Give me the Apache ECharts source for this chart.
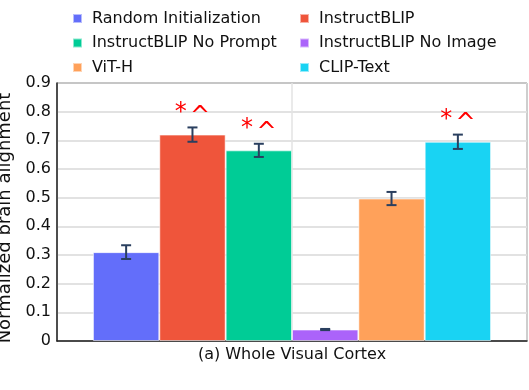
<!DOCTYPE html>
<html>
<head>
<meta charset="UTF-8">
<title>brain alignment</title>
<script src="https://cdn.jsdelivr.net/npm/echarts@6/dist/echarts.min.js"></script>
<style>
  html, body { margin: 0; padding: 0; background: #fff; }
  #main { width: 529px; height: 390px; }
</style>
</head>
<body>
<div id="main"></div>
<script>
// data
var category = ['(a) Whole Visual Cortex'];
var models = ['Random Initialization', 'InstructBLIP', 'InstructBLIP No Prompt',
              'InstructBLIP No Image', 'ViT-H', 'CLIP-Text'];
var order = [0, 1, 2, 3, 4, 5];
var values = [0.310, 0.720, 0.665, 0.040, 0.497, 0.695];
var errors = [0.024, 0.025, 0.023, 0.002, 0.023, 0.025];
var marks = [false, true, true, false, false, true]; // significance "* ^"
var colors = ['#636efa', '#ef553b', '#00cc96', '#ab63fa', '#ffa15a', '#19d3f3'];

var FONT = 'DejaVu Sans';
var groupFrac = 0.847;

var chart = echarts.init(document.getElementById('main'));

var series = models.map(function (name, i) {
  return {
    name: name,
    type: 'bar',
    data: [values[i]],
    barGap: '0%',
    barCategoryGap: '15.3%',
    itemStyle: { color: colors[i], borderColor: 'rgba(255,255,255,0.55)', borderWidth: 1 },
    label: {
      show: marks[i],
      position: 'top',
      distance: 6,
      formatter: '{a|*} {c|^}',
      rich: {
        a: { fontSize: 24, fontFamily: FONT, color: '#ff0000' },
        c: { fontSize: 24, fontFamily: FONT, color: '#ff0000', padding: [8, 0, 0, 0] }
      }
    },
    emphasis: { disabled: true }
  };
});

// error bars
series.push({
  type: 'custom',
  name: 'err',
  z: 5,
  data: order.map(function (i) { return [0, values[i] - errors[i], values[i] + errors[i], i]; }),
  encode: { x: 0, y: [1, 2] },
  renderItem: function (params, api) {
    var idx = api.value(3);
    var band = api.size([1, 0])[0] * groupFrac;
    var w = band / models.length;
    var lo = api.coord([api.value(0), api.value(1)]);
    var hi = api.coord([api.value(0), api.value(2)]);
    var x = lo[0] + (idx - (models.length - 1) / 2) * w;
    var cap = 5;
    var st = { stroke: '#2a3f5f', lineWidth: 2 };
    return {
      type: 'group',
      children: [
        { type: 'line', shape: { x1: x, y1: lo[1], x2: x, y2: hi[1] }, style: st },
        { type: 'line', shape: { x1: x - cap, y1: lo[1], x2: x + cap, y2: lo[1] }, style: st },
        { type: 'line', shape: { x1: x - cap, y1: hi[1], x2: x + cap, y2: hi[1] }, style: st }
      ]
    };
  }
});

var legendText = { fontSize: 16, lineHeight: 16, fontFamily: FONT, color: '#111', padding: [0, 0, 0, 5] };

var option = {
  animation: false,
  legend: [
    {
      orient: 'vertical', left: 67, top: 5.5, itemGap: 8.5,
      itemWidth: 9, itemHeight: 9, icon: 'rect',
      textStyle: legendText,
      data: [models[0], models[2], models[4]]
    },
    {
      orient: 'vertical', left: 294, top: 5.5, itemGap: 8.5,
      itemWidth: 9, itemHeight: 9, icon: 'rect',
      textStyle: legendText,
      data: [models[1], models[3], models[5]]
    }
  ],
  grid: {
    left: 57, right: 2, top: 83, bottom: 49,
    containLabel: false, outerBoundsMode: 'none',
    show: true, borderColor: '#222', borderWidth: 1
  },
  xAxis: [
    {
      type: 'category',
      data: category,
      axisLine: { lineStyle: { color: '#222', width: 1.5 } },
      axisTick: { show: false },
      axisLabel: { fontSize: 16, fontFamily: FONT, color: '#111', margin: 6 }
    },
    {
      // hidden helper axis so a grid line sits in the middle of the category
      type: 'value', min: -1, max: 1, interval: 1,
      position: 'bottom',
      axisLine: { show: false }, axisTick: { show: false }, axisLabel: { show: false },
      splitLine: { show: true, lineStyle: { color: '#e3e3e3', width: 1.5 } }
    }
  ],
  yAxis: {
    type: 'value',
    min: 0, max: 0.9, interval: 0.1,
    name: 'Normalized brain alignment',
    nameLocation: 'middle',
    nameGap: 30,
    nameTextStyle: { fontSize: 18, fontFamily: FONT, color: '#111', padding: [0, 12, 0, 0] },
    axisLine: { show: true, onZero: false, lineStyle: { color: '#222', width: 1.5 } },
    axisTick: { show: false },
    axisLabel: { fontSize: 16, fontFamily: FONT, color: '#111', margin: 6 },
    splitLine: { lineStyle: { color: '#d9d9d9', width: 1.5 } }
  },
  series: series
};

chart.setOption(option);
</script>
</body>
</html>
